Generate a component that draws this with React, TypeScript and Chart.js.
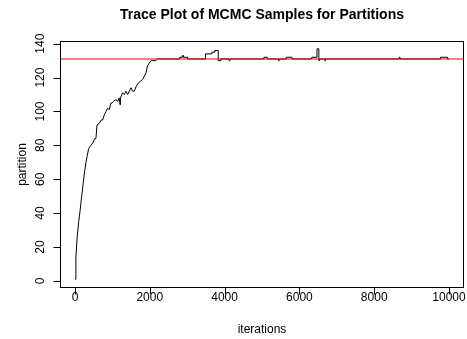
import React, { useEffect, useRef } from "react";
import { Chart, registerables } from "chart.js";

Chart.register(...registerables);

// Burn-in phase (smooth climb)
const burnIter = [1, 25, 60, 100, 135, 180, 222, 260, 294, 330, 364, 428, 490, 525, 560, 589, 650, 700, 740, 784, 830, 873, 918, 960, 990, 1030, 1097, 1150, 1180, 1205, 1215, 1275, 1320, 1360, 1409, 1450, 1499, 1540, 1588, 1640, 1704, 1760, 1810, 1860, 1900, 1940, 1970, 2035, 2150, 2212, 2300];
const burnPartition = [1, 14, 26, 35, 41, 50, 58, 65, 70, 74, 78, 80, 82, 84, 84, 92, 93, 95, 95, 98, 100, 102, 101, 105, 105, 106, 107, 106, 108, 104, 108, 111, 110, 112, 110, 112, 114, 112, 112, 115, 117, 118, 119, 121, 123, 127, 128, 130, 130, 131, 131];

// Stationary phase (step changes)
const stepIter = [2300, 2800, 2870, 2900, 3010, 3490, 3660, 3740, 3830, 3900, 4120, 4140, 5050, 5140, 5440, 5460, 5650, 5800, 6330, 6470, 6520, 6540, 6680, 6700, 8670, 8690, 9770, 9960, 10000];
const stepPartition = [131, 132, 133, 132, 131, 134, 135, 136, 130, 131, 130, 131, 132, 131, 130, 131, 132, 131, 132, 137, 130, 131, 130, 131, 132, 131, 132, 131, 131];

const trueValue = 131;
const xTicks = [0, 2000, 4000, 6000, 8000, 10000];
const yTicks = [0, 20, 40, 60, 80, 100, 120, 140];

const titleText = "Trace Plot of MCMC Samples for Partitions";
const xLabel = "iterations";
const yLabel = "partition";

const FONT = "'Liberation Sans', Arial, Helvetica, sans-serif";

export default function App() {
  const ref = useRef<HTMLCanvasElement | null>(null);

  useEffect(() => {
    const canvas = ref.current;
    if (!canvas) return;

    const rPlot = {
      id: "rPlot",
      afterDatasetsDraw(chart: any) {
        const ctx = chart.ctx as CanvasRenderingContext2D;
        const { left, right, top, bottom } = chart.chartArea;
        const xs = chart.scales.x;
        const ys = chart.scales.y;
        ctx.save();
        // reference line
        const yr = Math.round(ys.getPixelForValue(trueValue));
        ctx.strokeStyle = "rgba(255,0,0,0.5)";
        ctx.lineWidth = 2;
        ctx.beginPath();
        ctx.moveTo(left, yr);
        ctx.lineTo(right, yr);
        ctx.stroke();

        // box
        ctx.strokeStyle = "#000";
        ctx.lineWidth = 1;
        ctx.strokeRect(left + 0.5, top + 0.5, right - left - 1, bottom - top - 1);

        const tl = 7;
        // x axis ticks
        ctx.beginPath();
        const bx = bottom - 0.5;
        ctx.moveTo(Math.round(xs.getPixelForValue(xTicks[0])) + 0.5, bx);
        ctx.lineTo(Math.round(xs.getPixelForValue(xTicks[xTicks.length - 1])) + 0.5, bx);
        for (const t of xTicks) {
          const px = Math.round(xs.getPixelForValue(t)) + 0.5;
          ctx.moveTo(px, bx);
          ctx.lineTo(px, bx + tl);
        }
        // y axis ticks
        const lx = left + 0.5;
        ctx.moveTo(lx, Math.round(ys.getPixelForValue(yTicks[0])) + 0.5);
        ctx.lineTo(lx, Math.round(ys.getPixelForValue(yTicks[yTicks.length - 1])) + 0.5);
        for (const t of yTicks) {
          const py = Math.round(ys.getPixelForValue(t)) + 0.5;
          ctx.moveTo(lx, py);
          ctx.lineTo(lx - tl, py);
        }
        ctx.stroke();

        ctx.fillStyle = "#000";
        ctx.font = `12px ${FONT}`;
        ctx.textAlign = "center";
        ctx.textBaseline = "middle";
        for (const t of xTicks) {
          ctx.fillText(String(t), xs.getPixelForValue(t), bottom + 10);
        }
        for (const t of yTicks) {
          ctx.save();
          ctx.translate(left - 19, ys.getPixelForValue(t));
          ctx.rotate(-Math.PI / 2);
          ctx.fillText(String(t), 0, 0);
          ctx.restore();
        }
        // axis titles
        const cx = (left + right) / 2;
        ctx.fillText(xLabel, cx, 330);
        ctx.save();
        ctx.translate(23, (top + bottom) / 2);
        ctx.rotate(-Math.PI / 2);
        ctx.fillText(yLabel, 0, 0);
        ctx.restore();
        // main title
        ctx.font = `bold 14px ${FONT}`;
        ctx.fillText(titleText, cx, 15);
        ctx.restore();
      },
    };

    const chart = new Chart(canvas, {
      type: "line",
      data: {
        datasets: [
          {
            label: "burn-in",
            data: burnIter.map((x, i) => ({ x, y: burnPartition[i] })),
            borderColor: "#000",
            borderWidth: 1,
            pointRadius: 0,
            tension: 0,
          },
          {
            label: "stationary",
            data: stepIter.map((x, i) => ({ x, y: stepPartition[i] })),
            borderColor: "#000",
            borderWidth: 1,
            pointRadius: 0,
            stepped: true,
          },
        ],
      },
      options: {
        responsive: false,
        animation: false,
        devicePixelRatio: 1,
        layout: { padding: { left: 60, top: 41, right: 3, bottom: 51 } },
        plugins: { legend: { display: false }, tooltip: { enabled: false }, title: { display: false } },
        scales: {
          x: { type: "linear", min: -400, max: 10400, display: false },
          y: { type: "linear", min: -4.2, max: 141.6, display: false },
        },
      },
      plugins: [rPlot],
    });
    return () => chart.destroy();
  }, []);

  return (
    <div style={{ position: "fixed", left: 0, top: 0, width: 467, height: 339, background: "#fff" }}>
      <canvas ref={ref} width={467} height={339} />
    </div>
  );
}
